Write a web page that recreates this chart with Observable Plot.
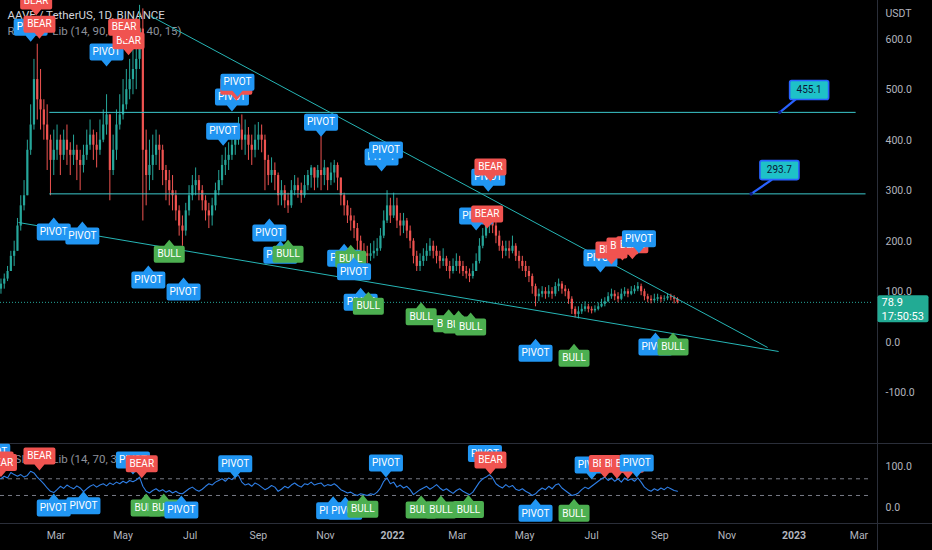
<!DOCTYPE html>
<html><head><meta charset="utf-8">
<script src="https://cdn.jsdelivr.net/npm/d3@7"></script>
<script src="https://cdn.jsdelivr.net/npm/@observablehq/plot@0.6"></script>
<style>
html,body{margin:0;padding:0;background:#000;}
#wrap{position:relative;width:932px;height:550px;overflow:hidden;background:#000;}
#main{position:absolute;left:0;top:0;}
#rsi{position:absolute;left:0;top:443px;}
</style></head>
<body><div id="wrap"><div id="main"></div><div id="rsi"></div></div>
<script>
// ---------- data ----------
const mainTitle = "AAVE / TetherUS, 1D, BINANCE";
const mainStudy = "RSI Div - Lib (14, 90, 60, 30, 40, 15)";
const rsiStudy = "RSI Div - Lib (14, 70, 30, 90)";
const candleStart = "2021-01-10";      // 3-day candles
const candleStepDays = 3;
const firstOpen = 105;
const closes = [
 115,125,140,170,180,230,270,290,380,430,
 520,480,460,430,400,360,380,400,370,400,
 380,370,380,360,350,370,390,410,390,380,
 400,430,450,340,380,430,450,470,500,520,
 540,560,620,380,330,350,370,390,380,340,
 320,300,290,260,230,220,260,290,310,320,
 300,280,260,250,270,300,320,350,360,370,
 390,400,420,400,410,390,380,400,410,400,
 360,330,340,330,290,300,280,270,300,310,
 300,290,310,330,345,325,340,330,345,320,
 335,350,325,290,270,250,240,225,200,180,
 175,170,175,180,185,210,240,270,250,270,
 240,230,240,220,200,170,150,160,170,180,
 190,180,170,160,165,150,140,150,160,150,
 140,135,130,140,160,190,210,230,240,230,
 210,190,180,185,180,190,170,160,150,140,
 130,110,90,95,100,95,100,95,110,115,
 105,100,85,65,55,60,65,70,65,62,
 65,70,75,80,90,95,90,85,95,100,
 95,100,105,110,100,90,85,82,85,88,
 85,86,90,88,85,79];
const highs = [
 125,135,150,180,200,245,290,320,400,470,
 560,590,540,480,470,410,420,430,410,420,
 430,395,410,390,380,390,420,440,420,415,
 440,460,490,450,410,460,490,520,540,560,
 600,620,667,660,420,400,410,420,410,390,
 350,340,330,300,270,250,275,310,330,345,
 330,310,290,275,285,315,340,370,385,395,
 420,430,445,450,440,425,410,430,435,430,
 410,370,365,355,335,320,310,295,320,330,
 325,315,330,340,350,345,350,415,360,345,
 355,360,355,325,295,280,265,250,235,210,
 195,190,195,200,205,225,260,300,285,295,
 285,255,255,245,230,205,180,175,185,195,
 205,200,190,180,185,170,160,165,175,170,
 160,150,145,155,175,205,225,250,260,265,
 240,220,200,200,200,210,195,180,170,160,
 150,135,115,105,110,108,112,108,118,125,
 120,112,105,90,70,70,75,80,75,70,
 72,78,85,88,98,105,102,98,105,108,
 105,110,112,118,115,105,95,92,95,95,
 92,92,96,95,92,88];
const lows = [
 95,105,120,140,150,180,220,260,290,370,
 420,440,420,400,340,290,330,360,330,360,
 350,330,350,320,300,335,360,380,360,345,
 370,395,410,280,330,360,420,440,460,480,
 490,500,540,240,270,300,320,350,340,310,
 280,270,260,240,210,190,210,250,280,290,
 280,260,240,225,230,260,290,310,330,340,
 360,370,390,380,370,360,350,365,380,375,
 300,310,315,300,270,270,265,255,265,290,
 285,275,285,300,305,300,305,300,310,300,
 310,315,300,270,250,235,220,205,180,165,
 160,155,160,165,170,180,205,235,235,245,
 225,210,215,205,185,155,140,140,150,160,
 170,165,155,145,150,140,125,135,140,135,
 130,125,118,125,140,155,185,205,215,215,
 195,180,165,170,165,175,160,145,140,128,
 118,95,70,80,88,85,88,85,90,100,
 95,90,75,55,48,46,55,60,58,56,
 58,62,68,70,78,85,82,78,82,90,
 88,92,95,100,92,82,78,76,78,80,
 78,80,82,82,76,76];
const rsiValues = [
 70,76,72,85,80,76,80,74,78,88,
 84,74,66,58,48,40,37,44,52,47,
 55,50,46,53,48,39,46,52,56,50,
 55,58,53,60,56,62,58,64,60,66,
 63,67,74,52,40,36,42,46,40,44,
 38,42,36,40,35,34,40,46,50,44,
 40,45,52,58,55,62,66,70,64,72,
 68,76,78,62,55,58,52,60,56,50,
 44,48,54,50,40,45,52,48,55,60,
 54,50,58,56,62,55,58,60,52,56,
 54,58,52,44,40,36,38,33,30,34,
 32,30,34,32,38,48,64,72,58,62,
 50,55,48,52,44,32,38,44,48,52,
 45,50,56,48,42,46,40,35,42,46,
 40,36,32,38,50,62,70,74,80,72,
 58,52,48,56,50,54,45,42,46,40,
 36,30,34,42,48,44,52,46,55,58,
 48,42,36,30,32,36,44,50,46,52,
 58,64,70,74,66,72,64,70,62,72,
 66,70,64,72,62,50,44,40,46,42,
 48,44,50,46,42,40];

const priceTicks = [-100, 0, 100, 200, 300, 400, 500, 600];
const rsiTicks = [0, 100];
const rsiLevels = [70, 30];
const monthTicks = ["2021-03-01","2021-05-01","2021-07-01","2021-09-01","2021-11-01",
  "2022-03-01","2022-05-01","2022-07-01","2022-09-01","2022-11-01","2023-03-01"];
const yearTicks = ["2022-01-01","2023-01-01"];

const levelValues = [455.1, 293.7];
const levelStart = ["2021-02-23", "2021-02-23"];
const levelEnd = ["2023-02-26", "2023-03-07"];
const calloutFrom = ["2022-12-19", "2022-11-23"];
const calloutTipDate = ["2023-01-03", "2022-12-12"];
const calloutTipPrice = [482, 322];
const calloutBoxDate = ["2022-12-28", "2022-12-01"];
const calloutBoxPrice = [480.6, 322];

const trendStartDate = ["2021-05-26", "2021-01-26"];
const trendStartPrice = [646, 237];
const trendEndDate = ["2022-12-08", "2022-12-18"];
const trendEndPrice = [-10.5, -18.4];

const lastPrice = 78.9;
const countdown = "17:50:53";

const mainLabelText = ["PIVOT","BEAR","BEAR","PIVOT","BEAR","BEAR","PIVOT","BEAR","PIVOT","PIVOT","PIVOT","PIVOT","PIVOT","PIVOT","BEAR","PIVOT","BEAR","PIVOT","BEAR","BEAR","BEAR","PIVOT",
 "PIVOT","PIVOT","BULL","PIVOT","PIVOT","PIVOT","PIVOT","BULL","PIVOT","BULL","PIVOT","PIVOT","BULL","BULL","BULL","BULL","BULL","PIVOT","BULL","PIVOT","BULL"];
const mainLabelDate = ["2021-02-06","2021-02-11","2021-02-14","2021-04-16","2021-05-06","2021-05-02","2021-08-08","2021-08-12","2021-08-13","2021-07-31","2021-10-28","2021-12-22","2021-12-26","2022-03-29","2022-03-31","2022-03-18","2022-03-28","2022-07-09","2022-07-19","2022-07-29","2022-08-07","2022-08-13",
 "2021-02-27","2021-03-25","2021-06-12","2021-05-24","2021-06-25","2021-09-11","2021-09-21","2021-09-28","2021-11-18","2021-11-24","2021-11-27","2021-12-03","2021-12-10","2022-01-27","2022-02-21","2022-03-02","2022-03-13","2022-05-11","2022-06-15","2022-08-28","2022-09-13"];
const mainLabelValue = [595,647,601,546,568,595,457,478,486,389,407,338,352,298,318,221,225,138,154,162,164,176,
 247,239,203,152,128,245,201,203,195,193,168,108,100,79,65,63,59,7,-3,19,19];
const mainLabelDir = ["d","d","d","d","d","d","d","d","d","d","d","d","d","d","d","d","d","d","d","d","d","d",
 "u","u","u","u","u","u","u","u","u","u","u","u","u","u","u","u","u","u","u","u","u"];

const rsiLabelText = ["PIVOT","BEAR","BEAR","BEAR","PIVOT","PIVOT","PIVOT","BEAR","BULL","BULL","PIVOT","PIVOT","PIVOT","PIVOT","PIVOT","BULL","BULL","BULL","BULL","PIVOT","BEAR","PIVOT","BULL","PIVOT","BEAR","BEAR","BEAR","PIVOT"];
const rsiLabelDate = ["2021-01-03","2021-01-07","2021-01-10","2021-02-14","2021-02-27","2021-03-26","2021-05-10","2021-05-18","2021-05-22","2021-06-07","2021-06-23","2021-08-11","2021-12-26","2021-11-08","2021-11-19","2021-12-05","2022-01-27","2022-02-14","2022-03-11","2022-03-26","2022-03-31","2022-05-11","2022-06-15","2022-07-01","2022-07-13","2022-07-24","2022-08-03","2022-08-11"];
const rsiLabelValue = [99,80,74,90,35,40,80,71,35,35,30,71,73,28,27,32,30,30,31,96,80,22,22,68,72,70,70,73];
const rsiLabelDir = ["d","d","d","d","u","u","d","d","u","u","u","d","d","u","u","u","u","u","u","d","d","u","u","d","d","d","d","d"];

// ---------- styles ----------
const upColor = "#26a69a", downColor = "#ef5350";
const labelColor = {PIVOT: "#2196f3", BEAR: "#f05350", BULL: "#4caf50"};
const boxWidth = {PIVOT: 34, BEAR: 32, BULL: 31};
const textWidth = {PIVOT: 21, BEAR: 19, BULL: 17};
const BOX_H = 17, PTR = 6;
const lineColor = "#26b5b5";
const levelColor = "#3cc8cc";
const gridLine = "#2a2e39";
const font = "Roboto, 'Liberation Sans', sans-serif";
const xDomain = [new Date("2021-01-09T14:00Z"), new Date("2023-03-13T08:00Z")];

const candles = closes.map((c, i) => ({
  date: d3.utcDay.offset(new Date(candleStart), candleStepDays * i),
  open: i ? closes[i - 1] : firstOpen, close: c, high: highs[i], low: lows[i]
}));
const rsiData = rsiValues.map((v, i) => ({date: candles[i].date, v}));

function labelSymbol(w, dir) {
  const s = dir === "d" ? -1 : 1, r = 2, pw = 5, h = BOX_H, p = PTR, hw = w / 2;
  const Y = v => s * v;
  return {draw(ctx) {
    ctx.moveTo(0, 0);
    ctx.lineTo(-pw, Y(p));
    ctx.lineTo(-hw + r, Y(p));
    ctx.arcTo(-hw, Y(p), -hw, Y(p + r), r);
    ctx.lineTo(-hw, Y(p + h - r));
    ctx.arcTo(-hw, Y(p + h), -hw + r, Y(p + h), r);
    ctx.lineTo(hw - r, Y(p + h));
    ctx.arcTo(hw, Y(p + h), hw, Y(p + h - r), r);
    ctx.lineTo(hw, Y(p + r));
    ctx.arcTo(hw, Y(p), hw - r, Y(p), r);
    ctx.lineTo(pw, Y(p));
    ctx.closePath();
  }};
}
function rectSymbol(x0, y0, x1, y1, r) {
  return {draw(ctx) {
    ctx.moveTo(x0 + r, y0);
    ctx.lineTo(x1 - r, y0); ctx.arcTo(x1, y0, x1, y0 + r, r);
    ctx.lineTo(x1, y1 - r); ctx.arcTo(x1, y1, x1 - r, y1, r);
    ctx.lineTo(x0 + r, y1); ctx.arcTo(x0, y1, x0, y1 - r, r);
    ctx.lineTo(x0, y0 + r); ctx.arcTo(x0, y0, x0 + r, y0, r);
    ctx.closePath();
  }};
}
function labelMarks(texts, dates, values, dirs) {
  return texts.flatMap((t, i) => [
    Plot.dot([i], {x: j => new Date(dates[j]), y: j => values[j], symbol: labelSymbol(boxWidth[t], dirs[i]), fill: labelColor[t], r: 5}),
    Plot.text([i], {x: j => new Date(dates[j]), y: j => values[j], text: j => texts[j],
      dy: (dirs[i] === "d" ? -1 : 1) * (PTR + BOX_H / 2), fill: "#ffffff", fontSize: 10, ariaLabel: "lbltext"})
  ]);
}
const idx = a => a.map((_, i) => i);

// ---------- main pane ----------
const mainPlot = Plot.plot({
  width: 932, height: 443, marginLeft: 0, marginRight: 60, marginTop: 0, marginBottom: 0,
  style: {background: "#000", color: "#b2b5be", fontFamily: font, fontSize: "10.5px"},
  x: {type: "utc", domain: xDomain, axis: null},
  y: {domain: [-200.6, 676.6]},
  color: {domain: ["up", "down"], range: [upColor, downColor]},
  marks: [
    Plot.ruleX([xDomain[1]], {stroke: gridLine, dx: 5}),
    Plot.text([mainTitle], {frameAnchor: "top-left", dx: 7, dy: 15, lineAnchor: "middle", textAnchor: "start", fill: "#d1d4dc", fontSize: 11.5}),
    Plot.text([mainStudy], {frameAnchor: "top-left", dx: 7, dy: 31, lineAnchor: "middle", textAnchor: "start", fill: "#8d909a", fontSize: 11.5}),
    Plot.ruleY([lastPrice], {stroke: upColor, strokeDasharray: "1,2"}),
    Plot.ruleX(candles, {x: "date", y1: "low", y2: "high", stroke: d => d.close >= d.open ? "up" : "down", strokeWidth: 1}),
    Plot.ruleX(candles, {x: "date", y1: "open", y2: "close", stroke: d => d.close >= d.open ? "up" : "down", strokeWidth: 2.2}),
    Plot.link(idx(levelValues), {x1: i => new Date(levelStart[i]), x2: i => new Date(levelEnd[i]), y1: i => levelValues[i], y2: i => levelValues[i], stroke: levelColor, strokeWidth: 1}),
    Plot.link(idx(trendStartDate), {x1: i => new Date(trendStartDate[i]), y1: i => trendStartPrice[i], x2: i => new Date(trendEndDate[i]), y2: i => trendEndPrice[i], stroke: lineColor, strokeWidth: 1}),
    ...labelMarks(mainLabelText, mainLabelDate, mainLabelValue, mainLabelDir),
    Plot.link(idx(levelValues), {x1: i => new Date(calloutFrom[i]), y1: i => levelValues[i], x2: i => new Date(calloutTipDate[i]), y2: i => calloutTipPrice[i], stroke: "#2962ff", strokeWidth: 2.2}),
    Plot.dot(idx(levelValues), {x: i => new Date(calloutFrom[i]), y: i => levelValues[i], r: 1.8, fill: "#0d1f8a"}),
    Plot.dot(idx(levelValues), {x: i => new Date(calloutBoxDate[i]), y: i => calloutBoxPrice[i], symbol: rectSymbol(0, -19, 39, 0, 2), fill: "#1ec1c8", stroke: "#2962ff", strokeWidth: 1.6}),
    Plot.text(idx(levelValues), {x: i => new Date(calloutBoxDate[i]), y: i => calloutBoxPrice[i], text: i => levelValues[i].toFixed(1), dx: 19.5, dy: -9.5, fill: "#0b1535", fontSize: 10}),
    Plot.axisY(priceTicks, {anchor: "right", tickSize: 0, tickPadding: 13, tickFormat: d => d.toFixed(1), label: null, fontSize: 10.5}),
    Plot.text(["USDT"], {frameAnchor: "top-right", dx: 13, dy: 13, lineAnchor: "middle", textAnchor: "start", fill: "#b2b5be", fontSize: 10.5}),
    Plot.dot([lastPrice], {y: d => d, frameAnchor: "right", symbol: rectSymbol(5, -7, 56, 20, 2), fill: "#22ab94"}),
    Plot.text([lastPrice], {y: d => d, frameAnchor: "right", text: d => d.toFixed(1), dx: 9, dy: 0.5, textAnchor: "start", fill: "#ffffff", fontSize: 11}),
    Plot.text([countdown], {y: () => lastPrice, frameAnchor: "right", text: d => d, dx: 9, dy: 14, textAnchor: "start", fill: "#ffffff", fontSize: 11})
  ]
});
document.getElementById("main").append(mainPlot);

// ---------- RSI pane ----------
const rsiPlot = Plot.plot({
  width: 932, height: 107, marginLeft: 0, marginRight: 60, marginTop: 0, marginBottom: 27,
  style: {background: "#000", color: "#b2b5be", fontFamily: font, fontSize: "10.5px"},
  x: {type: "utc", domain: xDomain},
  y: {domain: [-37.1, 154.5]},
  marks: [
    Plot.ruleY([154.5, -37.1], {stroke: gridLine, insetRight: -60}),
    Plot.ruleX([xDomain[1]], {stroke: gridLine, dx: 5, insetBottom: -27}),
    Plot.ruleY(rsiLevels, {stroke: "#787b86", strokeDasharray: "4,4", strokeWidth: 1}),
    Plot.text([rsiStudy], {frameAnchor: "top-left", dx: 7, dy: 16, lineAnchor: "middle", textAnchor: "start", fill: "#8d909a", fontSize: 11.5}),
    Plot.line(rsiData, {x: "date", y: "v", stroke: "#2f7fe6", strokeWidth: 1.1}),
    ...labelMarks(rsiLabelText, rsiLabelDate, rsiLabelValue, rsiLabelDir),
    Plot.axisY(rsiTicks, {anchor: "right", tickSize: 0, tickPadding: 13, tickFormat: d => d.toFixed(1), label: null, fontSize: 10.5}),
    Plot.axisX(monthTicks.map(d => new Date(d)), {anchor: "bottom", tickSize: 0, tickPadding: 8, tickFormat: d3.utcFormat("%b"), label: null, fontSize: 10.5}),
    Plot.axisX(yearTicks.map(d => new Date(d)), {anchor: "bottom", tickSize: 0, tickPadding: 8, tickFormat: d3.utcFormat("%Y"), label: null, fontSize: 10.5, fontWeight: "bold"})
  ]
});
document.getElementById("rsi").append(rsiPlot);

// condensed label text like the original badges
d3.selectAll('g[aria-label="lbltext"] text').each(function() {
  const t = this.textContent;
  if (textWidth[t]) {
    this.setAttribute("textLength", textWidth[t]);
    this.setAttribute("lengthAdjust", "spacingAndGlyphs");
  }
});
</script>
</body></html>
